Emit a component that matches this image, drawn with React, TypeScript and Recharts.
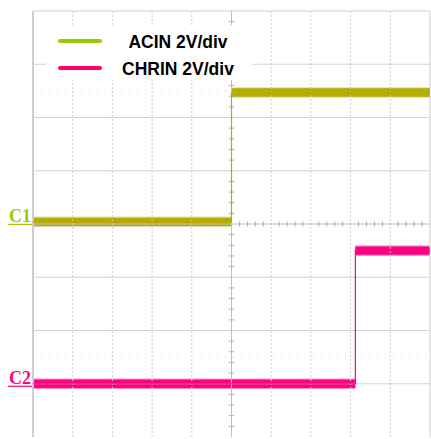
import React from "react";
import {
  ComposedChart,
  Area,
  Line,
  XAxis,
  YAxis,
  ReferenceLine,
  Legend,
} from "recharts";

// time in horizontal divisions (centre = trigger), levels in vertical divisions
const timeDiv = [-5, 0, 3.12, 5];
const acinDiv = [0.04, 2.47, 2.47, 2.47];
const chrinDiv = [-3.0, -3.0, -0.5, -0.5];

const seriesNames = ["ACIN 2V/div", "CHRIN 2V/div"];
const channelLabels = ["C1", "C2"];
const channelZero = [0.04, -3.0];

const xGridDiv = [-4, -3, -2, -1, 1, 2, 3, 4];
const yGridDiv = [-3, -2, -1, 1, 2, 3];
const cursorDiv = [2.5, -2.5];

const BAND = 0.078;
const FUZZ = 0.1;

const bandColors = ["#b4ac00", "#ff0080"];
const legendColors = ["#99cc00", "#ff0066"];
const labelColors = ["#99cc00", "#ff0080"];

const data = timeDiv.map((t, i) => ({
  t,
  acin: acinDiv[i],
  chrin: chrinDiv[i],
  acinBand: [acinDiv[i] - BAND, acinDiv[i] + BAND],
  chrinBand: [chrinDiv[i] - BAND, chrinDiv[i] + BAND],
  acinFuzz: [acinDiv[i] - FUZZ, acinDiv[i] + FUZZ],
  chrinFuzz: [chrinDiv[i] - FUZZ, chrinDiv[i] + FUZZ],
}));

// minor tick marks on the centre cross (every 1/5 div)
const minorX: number[] = [];
for (let k = -25; k <= 25; k++) if (k % 5 !== 0) minorX.push(k / 5);
const minorY: number[] = [];
for (let k = -20; k <= 20; k++) if (k % 5 !== 0) minorY.push(k / 5);

const GRID = "#d2d2d2";

function ChannelTick(props: any) {
  const idx = channelZero.indexOf(props.payload.value);
  if (idx < 0) return null;
  const y = props.y;
  return (
    <g>
      <text
        x={9}
        y={y + 0.5}
        fill={labelColors[idx]}
        fontFamily="'Liberation Serif', serif"
        fontWeight="bold"
        fontSize={18}
      >
        {channelLabels[idx]}
      </text>
      <line x1={8} x2={32} y1={y + 2.5} y2={y + 2.5} stroke={labelColors[idx]} strokeWidth={1.2} />
    </g>
  );
}

function LegendBox() {
  return (
    <svg width={206} height={55} style={{ display: "block", background: "#fff" }}>
      {seriesNames.map((name, i) => (
        <g key={name}>
          <line
            x1={14}
            x2={54}
            y1={16 + i * 27}
            y2={16 + i * 27}
            stroke={legendColors[i]}
            strokeWidth={4}
            strokeLinecap="round"
          />
          <text
            x={132}
            y={22.5 + i * 27}
            textAnchor="middle"
            fontFamily="'Liberation Sans', Arial, sans-serif"
            fontWeight="bold"
            fontSize={17.5}
            fill="#000"
          >
            {name}
          </text>
        </g>
      ))}
    </svg>
  );
}

export default function App() {
  return (
    <div style={{ position: "absolute", left: 0, top: 0, background: "#fff" }}>
      <ComposedChart
        width={431}
        height={439}
        data={data}
        margin={{ top: 11, right: 1, bottom: 2, left: 0 }}
      >
        <XAxis dataKey="t" type="number" domain={[-5, 5]} hide />
        <YAxis
          type="number"
          domain={[-4, 4]}
          ticks={channelZero}
          interval={0}
          width={33}
          axisLine={false}
          tickLine={false}
          tick={<ChannelTick />}
        />

        {yGridDiv.map((v) => (
          <ReferenceLine key={"h" + v} y={v} stroke={GRID} strokeWidth={1.2} />
        ))}
        {xGridDiv.map((v) => (
          <ReferenceLine key={"v" + v} x={v} stroke="#cccccc" strokeDasharray="2 2" />
        ))}
        {cursorDiv.map((v) => (
          <ReferenceLine key={"c" + v} y={v} stroke="#c4c4c4" strokeDasharray="1 7" />
        ))}

        {/* frame */}
        <ReferenceLine y={4} stroke="#cfcfcf" />
        <ReferenceLine x={-5} stroke="#cfcfcf" strokeWidth={2} />
        <ReferenceLine x={5} stroke="#cfcfcf" />

        {/* centre cross with minor ticks */}
        <ReferenceLine y={0} stroke="#c0c0c0" />
        <ReferenceLine x={0} stroke="#c0c0c0" />
        {minorX.map((v) => (
          <ReferenceLine
            key={"mx" + v}
            segment={[
              { x: v, y: -0.05 },
              { x: v, y: 0.05 },
            ]}
            stroke="#b0b0b0"
          />
        ))}
        {minorY.map((v) => (
          <ReferenceLine
            key={"my" + v}
            segment={[
              { x: -0.07, y: v },
              { x: 0.07, y: v },
            ]}
            stroke="#b0b0b0"
          />
        ))}

        <Area
          dataKey="acinFuzz"
          type="stepAfter"
          stroke="none"
          fill={bandColors[0]}
          fillOpacity={0.4}
          isAnimationActive={false}
          legendType="none"
        />
        <Area
          dataKey="acinBand"
          type="stepAfter"
          stroke="none"
          fill={bandColors[0]}
          fillOpacity={1}
          isAnimationActive={false}
          legendType="none"
        />
        <Line
          dataKey="acin"
          type="stepAfter"
          stroke={bandColors[0]}
          strokeWidth={1.2}
          dot={false}
          isAnimationActive={false}
          legendType="none"
        />
        <Area
          dataKey="chrinFuzz"
          type="stepAfter"
          stroke="none"
          fill={bandColors[1]}
          fillOpacity={0.4}
          isAnimationActive={false}
          legendType="none"
        />
        <Area
          dataKey="chrinBand"
          type="stepAfter"
          stroke="none"
          fill={bandColors[1]}
          fillOpacity={1}
          isAnimationActive={false}
          legendType="none"
        />
        <Line
          dataKey="chrin"
          type="stepAfter"
          stroke={bandColors[1]}
          strokeWidth={1.2}
          dot={false}
          isAnimationActive={false}
          legendType="none"
        />

        <Legend
          layout="vertical"
          align="center"
          verticalAlign="middle"
          wrapperStyle={{ left: 46, top: 25, width: 206, height: 55 }}
          content={() => <LegendBox />}
        />
      </ComposedChart>
    </div>
  );
}
